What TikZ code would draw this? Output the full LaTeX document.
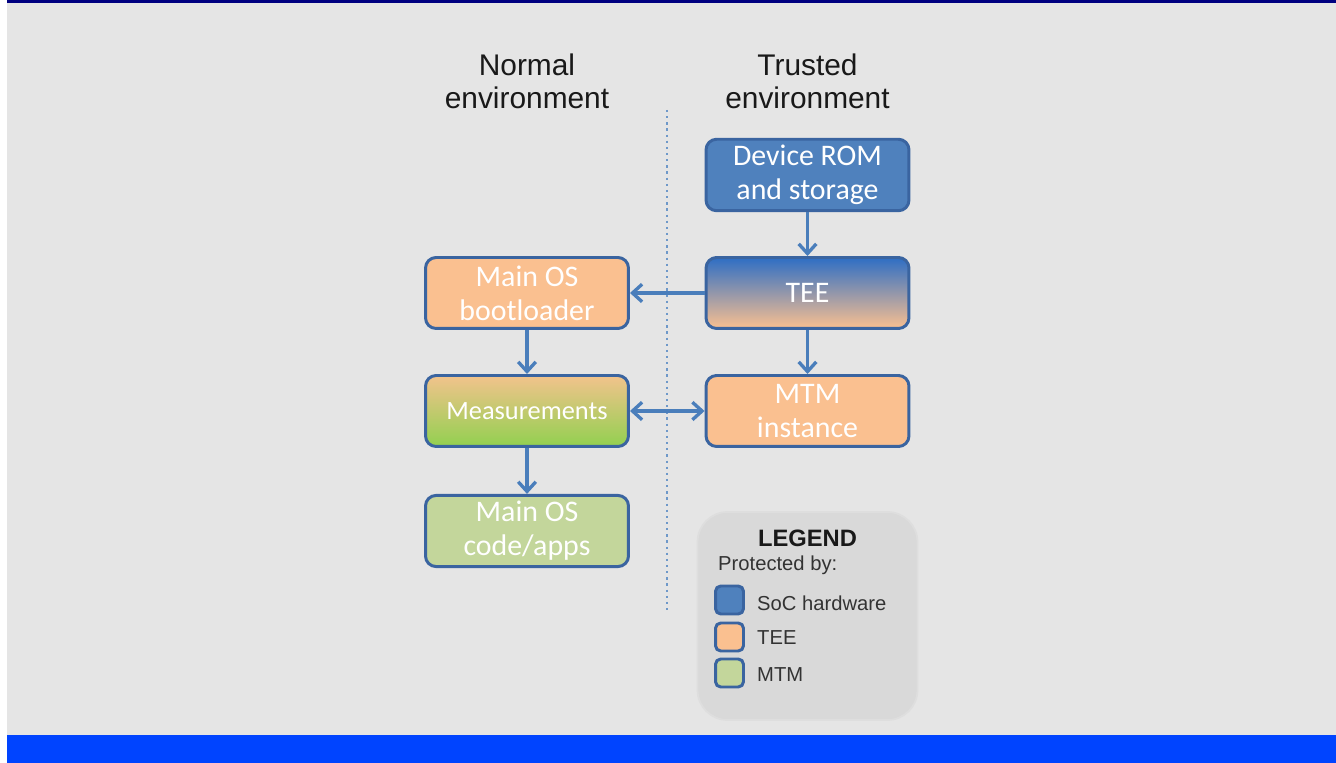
\documentclass[tikz,border=0pt]{standalone}
\usepackage{xcolor}
\usepackage{fontspec}
\setmainfont{Liberation Sans}
\newfontfamily\boxfont{Carlito}
\usepackage{tikz}
\usetikzlibrary{arrows.meta, positioning, calc}

\definecolor{bggray}{HTML}{E5E5E5}
\definecolor{navybar}{HTML}{000080}
\definecolor{footblue}{HTML}{0044FF}
\definecolor{romblue}{HTML}{4F81BD}
\definecolor{boxline}{HTML}{3A64A0}
\definecolor{linkblue}{HTML}{4A7EBB}
\definecolor{teetop}{HTML}{2E6EC4}
\definecolor{teemid}{HTML}{D3A8A4}
\definecolor{teeorange}{HTML}{FAC090}
\definecolor{mtmgreen}{HTML}{C3D69B}
\definecolor{measgreen}{HTML}{92D050}
\definecolor{meastop}{HTML}{F2C38C}
\definecolor{legendgray}{HTML}{D9D9D9}

\begin{document}
\begin{tikzpicture}[x=0.02cm,y=-0.02cm,
	box/.style={draw=boxline, line width=1.7pt, rounded corners=6pt,
		minimum width=4.06cm, minimum height=1.42cm, align=center,
		text=white, font=\boxfont\fontsize{17}{19.4}\selectfont},
	link/.style={draw=linkblue, line width=1.9pt, -{Straight Barb[length=5.5pt,width=10pt]}},
	swatch/.style={draw=boxline, line width=1.7pt, rounded corners=3pt,
		minimum size=0.56cm, inner sep=0pt},
	keytext/.style={anchor=west, text=black!80, font=\fontsize{11.5}{13}\selectfont}]

% page, background and bars
\useasboundingbox (0,0) rectangle (1336,763);
\fill[white] (0,0) rectangle (1336,763);
\fill[bggray] (7,0) rectangle (1336,735);
\fill[navybar] (7,0) rectangle (1336,3);
\fill[footblue] (7,735) rectangle (1336,763);

% set column positions
\pgfmathsetmacro{\lx}{527}
\pgfmathsetmacro{\rx}{807.5}

% column headings
\node[align=center, text=black!90, font=\fontsize{17}{18.7}\selectfont] (normal) at (\lx,81) {Normal\\environment};
\node[align=center, text=black!90, font=\fontsize{17}{18.7}\selectfont] (trusted) at (\rx,81) {Trusted\\environment};

% border between environments
\draw[linkblue!80, line width=0.9pt, dash pattern=on 1.3pt off 2.2pt] (667,110) -- (667,612);

% trusted side
\node[box, fill=romblue] (rom) at (\rx,175) {Device ROM\\and storage};
\node[box, top color=teetop, middle color=teemid, bottom color=teeorange] (tee) at (\rx,293) {TEE};
\node[box, fill=teeorange] (mtm) at (\rx,411) {MTM\\instance};

% normal side
\node[box, fill=teeorange] (boot) at (\lx,293) {Main OS\\bootloader};
\node[box, top color=meastop, bottom color=measgreen,
	font=\boxfont\fontsize{15}{17}\selectfont] (meas) at (\lx,411) {Measurements};
\node[box, fill=mtmgreen] (apps) at (\lx,531) {Main OS\\code/apps};

% boot chain
\draw[link] (rom) -- (tee);
\draw[link] (tee) -- (boot);
\draw[link] (tee) -- (mtm);
\draw[link] (boot) -- (meas);
\draw[link] (meas) -- (apps);
\draw[link, {Straight Barb[length=5.5pt,width=10pt]}-{Straight Barb[length=5.5pt,width=10pt]}] (meas) -- (mtm);

% legend
\node[fill=legendgray, draw=bggray!97!black, line width=1pt, rounded corners=0.6cm,
	minimum width=4.4cm, minimum height=4.16cm] (legend) at (807.5,616) {};
\node[font=\bfseries\fontsize{13.5}{15}\selectfont, text=black!90] (legendhead) at (807.5,538) {LEGEND};
\node[keytext] (protected) at (712,565) {Protected by:};
\node[swatch, fill=romblue] (sw1) at (729.5,600) {};
\node[swatch, fill=teeorange] (sw2) at (729.5,637) {};
\node[swatch, fill=mtmgreen] (sw3) at (729.5,673) {};
\node[keytext] (key1) at (751,603) {SoC hardware};
\node[keytext] (key2) at (751,638) {TEE};
\node[keytext] (key3) at (751,675) {MTM};

\end{tikzpicture}
\end{document}
